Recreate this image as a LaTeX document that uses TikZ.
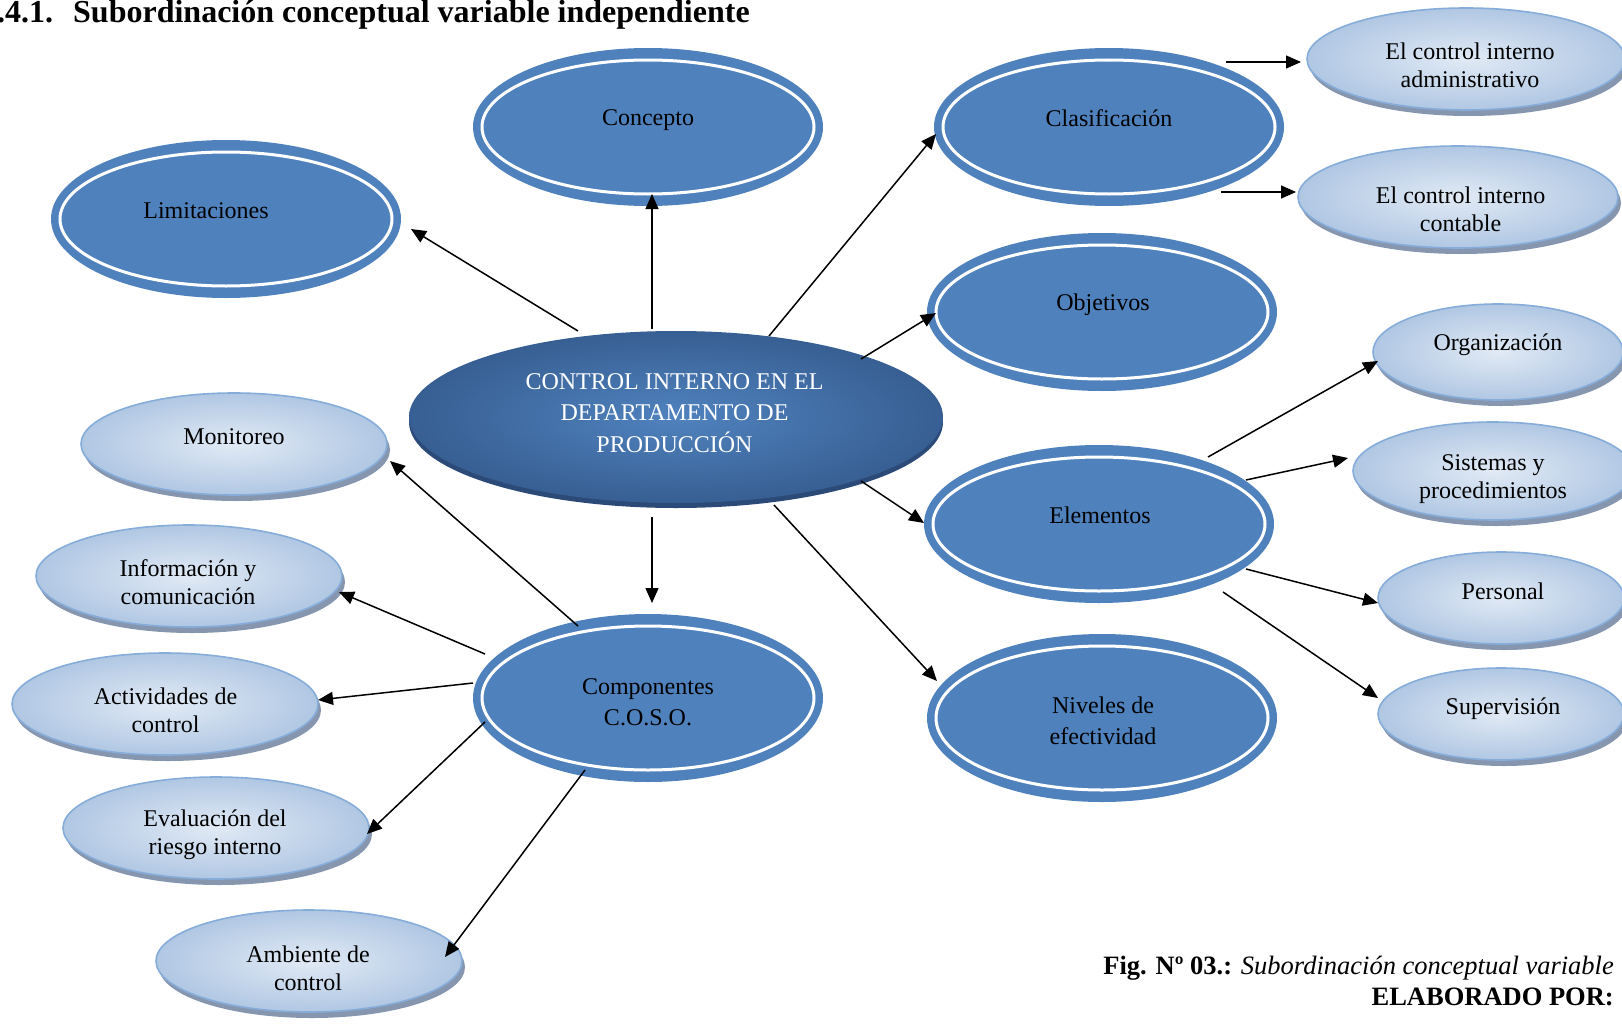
\documentclass[tikz,border=0pt]{standalone}
\usepackage{fontspec}
\setmainfont{Liberation Serif}
\usetikzlibrary{shapes.geometric,arrows.meta,shadows,calc}
\definecolor{blueA}{HTML}{4F81BD}
\definecolor{lightedge}{HTML}{86ACDA}
\definecolor{lightin}{HTML}{E1EAF5}
\definecolor{lightout}{HTML}{B0C7E3}
\definecolor{shadowc}{HTML}{8696AE}
\definecolor{coreIn}{HTML}{5082BE}
\definecolor{coreOut}{HTML}{375F93}
\definecolor{rimc}{HTML}{2C4A77}
\begin{document}
\begin{tikzpicture}[x=1pt,y=-1pt,
  darkell/.style={ellipse, fill=blueA, minimum width=350pt, minimum height=158pt, inner sep=0pt, outer sep=0pt},
  tallell/.style={darkell, minimum height=168pt},
  ring/.style={draw=white, line width=3pt},
  lightell/.style={ellipse, draw=lightedge, line width=1.6pt, inner color=lightin, outer color=lightout,
    inner sep=0pt, outer sep=0pt,
    general shadow={shadow xshift=3pt, shadow yshift=-6pt, fill=shadowc}},
  coreell/.style={ellipse, inner color=coreIn, outer color=coreOut, inner sep=0pt, outer sep=0pt,
    minimum width=534pt, minimum height=172pt,
    general shadow={shadow yshift=-5pt, fill=rimc}},
  dtxt/.style={font=\fontsize{24}{31.5}\selectfont, align=center, inner sep=0pt},
  ltxt/.style={font=\fontsize{24}{28}\selectfont, align=center, inner sep=0pt},
  arr/.style={-{Triangle[length=15pt,width=13pt]}, line width=1.5pt, black}]

\useasboundingbox (0,0) rectangle (1622,1025);
\clip (0,0) rectangle (1622,1025);

% light satellite ellipses
\node[lightell, minimum width=306pt, minimum height=102pt] (mon)  at (234,444) {};
\node[lightell, minimum width=306pt, minimum height=102pt] (info) at (189,576) {};
\node[lightell, minimum width=306pt, minimum height=102pt] (act)  at (165,704) {};
\node[lightell, minimum width=306pt, minimum height=102pt] (eval) at (216,828) {};
\node[lightell, minimum width=306pt, minimum height=102pt] (amb)  at (309,961) {};
\node[lightell, minimum width=318pt, minimum height=102pt] (adm)  at (1466,59) {};
\node[lightell, minimum width=320pt, minimum height=102pt] (cont) at (1458,197) {};
\node[lightell, minimum width=250pt, minimum height=96pt]  (org)  at (1498,352) {};
\node[lightell, minimum width=280pt, minimum height=98pt]  (sis)  at (1493,471) {};
\node[lightell, minimum width=246pt, minimum height=92pt]  (per)  at (1501,598) {};
\node[lightell, minimum width=246pt, minimum height=92pt]  (sup)  at (1501,714) {};

% double-ringed blue ellipses
\node[darkell] (conc) at (648,127) {};
\node[darkell] (lim)  at (226,219) {};
\node[darkell] (clas) at (1109,127) {};
\node[darkell] (obj)  at (1102,312) {};
\node[darkell] (elem) at (1099,524) {};
\node[tallell] (niv)  at (1102,718) {};
\node[tallell] (comp) at (648,698) {};
\foreach \n/\ry in {conc/67,lim/67,clas/67,obj/67,elem/67,niv/72,comp/72}
  \draw[ring] (\n.center) ellipse [x radius=166, y radius=\ry];

% central ellipse
\node[coreell] (c) at (676,417) {};

% labels
\node[dtxt, text=white] (c-t) at (674.5,413) {CONTROL INTERNO EN EL\\DEPARTAMENTO DE\\PRODUCCIÓN};
\node[dtxt] (conc-t) at (648,120) {Concepto};
\node[dtxt] (lim-t)  at (206,211) {Limitaciones};
\node[dtxt] (clas-t) at (1109,118) {Clasificación};
\node[dtxt] (obj-t)  at (1103,305) {Objetivos};
\node[dtxt] (elem-t) at (1100,515) {Elementos};
\node[dtxt] (niv-t)  at (1103,721) {Niveles de\\efectividad};
\node[dtxt] (comp-t) at (648,702) {Componentes\\C.O.S.O.};
\node[ltxt] (mon-t)  at (234,437) {Monitoreo};
\node[ltxt] (info-t) at (188,582) {Información y\\comunicación};
\node[ltxt] (act-t)  at (165.5,710) {Actividades de\\control};
\node[ltxt] (eval-t) at (215,835) {Evaluación del\\riesgo interno};
\node[ltxt] (amb-t)  at (308,968) {Ambiente de\\control};
\node[ltxt] (adm-t)  at (1470,65) {El control interno\\administrativo};
\node[ltxt] (cont-t) at (1460.6,209) {El control interno\\contable};
\node[ltxt] (org-t)  at (1498,345) {Organización};
\node[ltxt] (sis-t)  at (1493,479) {Sistemas y\\procedimientos};
\node[ltxt] (per-t)  at (1503,591) {Personal};
\node[ltxt] (sup-t)  at (1503,709) {Supervisión};

% heading and caption
\node[anchor=base west, inner sep=0pt, font=\fontsize{32}{38}\selectfont\bfseries] (title) at (-3,23)
  {.4.1.\hspace{20pt}Subordinación conceptual variable independiente};
\node[anchor=base east, inner sep=0pt, font=\fontsize{26.5}{31}\selectfont] (cap1) at (1614,974)
  {\textbf{Fig. Nº 03.:} \textit{Subordinación conceptual variable}};
\node[anchor=base east, inner sep=0pt, font=\fontsize{26.5}{31}\selectfont\bfseries] (cap2) at (1614,1005)
  {ELABORADO POR:};

% connectors (offsets from the node centres)
\draw[arr] ($(c)+(-98,-86)$)   -- ($(lim)+(185,10)$);
\draw[arr] ($(c)+(-24,-88)$)   -- ($(conc)+(4,67)$);
\draw[arr] ($(c)+(93,-81)$)    -- ($(clas)+(-173,7)$);
\draw[arr] ($(clas)+(117,-65)$) -- ($(adm)+(-165,3)$);
\draw[arr] ($(clas)+(112,65)$)  -- ($(cont)+(-162,-5)$);
\draw[arr] ($(c)+(185,-58)$)   -- ($(obj)+(-166,1)$);
\draw[arr] ($(c)+(185,64)$)    -- ($(elem)+(-175,-1)$);
\draw[arr] ($(c)+(98,88)$)     -- ($(niv)+(-165,-37)$);
\draw[arr] ($(c)+(-24,100)$)   -- ($(comp)+(4,-95)$);
\draw[arr] ($(elem)+(109,-67)$) -- ($(org)+(-120,9)$);
\draw[arr] ($(elem)+(147,-44)$) -- ($(sis)+(-145,-13)$);
\draw[arr] ($(elem)+(147,45)$)  -- ($(per)+(-123,5)$);
\draw[arr] ($(elem)+(124,68)$)  -- ($(sup)+(-123,-16)$);
\draw[arr] ($(comp)+(-70,-72)$) -- ($(mon)+(156,17)$);
\draw[arr] ($(comp)+(-163,-44)$) -- ($(info)+(150,16)$);
\draw[arr] ($(comp)+(-175,-15)$) -- ($(act)+(153,-4)$);
\draw[arr] ($(comp)+(-163,24)$) -- ($(eval)+(151,6)$);
\draw[arr] ($(comp)+(-63,72)$)  -- ($(amb)+(136,-4)$);
\end{tikzpicture}
\end{document}
